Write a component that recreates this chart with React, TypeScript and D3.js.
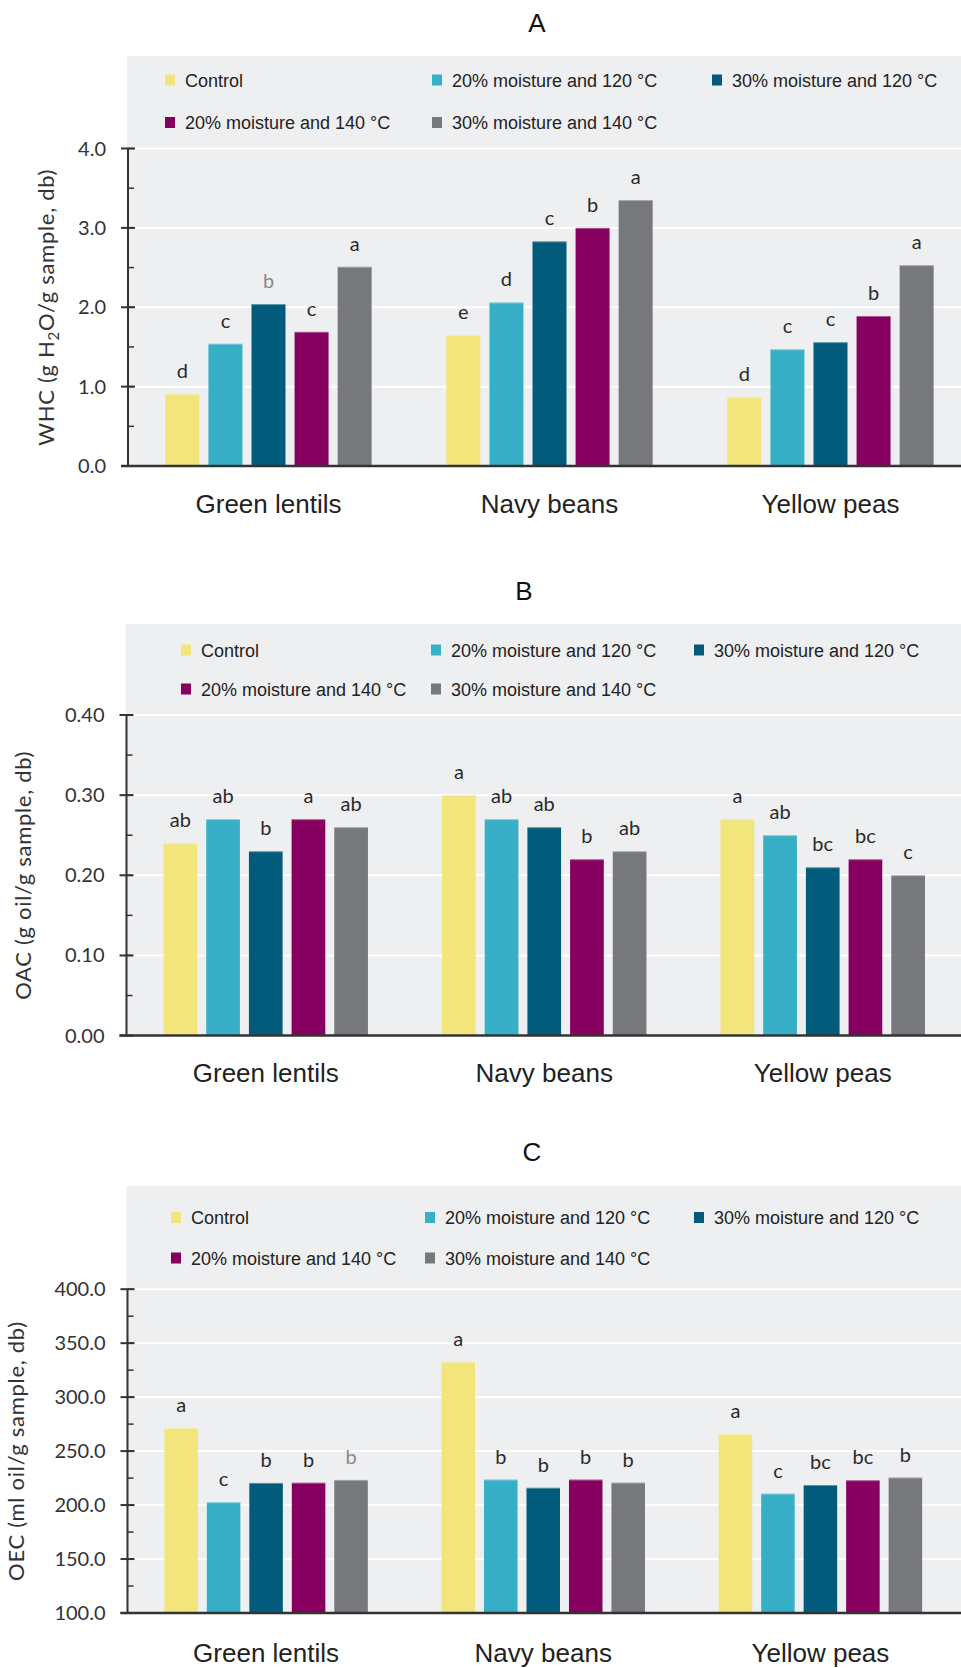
import React from "react";
import * as d3 from "d3";

// Pulse samples and treatments
const categories = ["Green lentils", "Navy beans", "Yellow peas"];
const treatments = [
  "Control",
  "20% moisture and 120 °C",
  "30% moisture and 120 °C",
  "20% moisture and 140 °C",
  "30% moisture and 140 °C",
];
const treatmentColors = ["#f1e57b", "#37afc6", "#025b7b", "#870060", "#77787c"];

// Water holding capacity (g H2O/g sample, db), one row per pulse
const whcValues = [
  [0.91, 1.54, 2.04, 1.69, 2.51],
  [1.65, 2.06, 2.83, 3.0, 3.35],
  [0.87, 1.47, 1.56, 1.89, 2.53],
];
const whcLetters = [
  ["d", "c", "b", "c", "a"],
  ["e", "d", "c", "b", "a"],
  ["d", "c", "c", "b", "a"],
];

// Oil absorption capacity (g oil/g sample, db)
const oacValues = [
  [0.24, 0.27, 0.23, 0.27, 0.26],
  [0.3, 0.27, 0.26, 0.22, 0.23],
  [0.27, 0.25, 0.21, 0.22, 0.2],
];
const oacLetters = [
  ["ab", "ab", "b", "a", "ab"],
  ["a", "ab", "ab", "b", "ab"],
  ["a", "ab", "bc", "bc", "c"],
];

// Oil emulsion capacity (ml oil/g sample, db)
const oecValues = [
  [271.3, 202.6, 220.5, 220.7, 223.3],
  [332.7, 223.6, 216.0, 223.6, 220.8],
  [265.9, 210.6, 218.6, 223.0, 225.5],
];
const oecLetters = [
  ["a", "c", "b", "b", "b"],
  ["a", "b", "b", "b", "b"],
  ["a", "c", "bc", "bc", "b"],
];

// Axis tick values
const whcTicks = [0, 1, 2, 3, 4];
const oacTicks = [0, 0.1, 0.2, 0.3, 0.4];
const oecTicks = [100, 150, 200, 250, 300, 350, 400];

const W = 961;
const H = 1668;
const TICK_FONT = "Lato, 'Open Sans', sans-serif";
const ARIAL = "'Liberation Sans', Arial, sans-serif";
const AXIS_COLOR = "#333";
const BG = "#eeeff1";

type PanelCfg = {
  title: string;
  titleX: number;
  titleY: number;
  bgTop: number;
  yTop: number;
  yBottom: number;
  x0: number;
  x1: number;
  domain: [number, number];
  ticks: number[];
  minorStep: number;
  fmt: (v: number) => string;
  legendRows: number[];
  legendCols: number[];
  axisTitleX: number;
  axisTitle: React.ReactNode;
  catY: number;
  values: number[][];
  letters: string[][];
  muted: string[];
};

function Panel({ cfg }: { cfg: PanelCfg }) {
  const y = d3.scaleLinear().domain(cfg.domain).range([cfg.yBottom, cfg.yTop]);
  const outer = d3
    .scaleBand<string>()
    .domain(categories)
    .range([cfg.x0, cfg.x1])
    .paddingInner(0.266)
    .paddingOuter(0.133);
  const inner = d3
    .scaleBand<number>()
    .domain(d3.range(treatments.length))
    .range([0, outer.bandwidth()])
    .paddingInner(0.211)
    .paddingOuter(0);

  const [d0, d1] = cfg.domain;
  const minor: number[] = [];
  for (let v = d0; v <= d1 + 1e-9; v += cfg.minorStep) minor.push(+v.toFixed(6));

  const legendItems = treatments.map((t, i) => ({
    label: t,
    color: treatmentColors[i],
    x: i < 3 ? cfg.legendCols[i] : cfg.legendCols[i - 3],
    y: i < 3 ? cfg.legendRows[0] : cfg.legendRows[1],
  }));

  const midY = (cfg.yTop + cfg.yBottom) / 2;

  return (
    <g>
      <text
        x={cfg.titleX}
        y={cfg.titleY}
        textAnchor="middle"
        fontFamily={ARIAL}
        fontSize={26}
        fill="#111"
      >
        {cfg.title}
      </text>
      <rect x={cfg.x0 - 1} y={cfg.bgTop} width={W - cfg.x0 + 1} height={cfg.yBottom - cfg.bgTop} fill={BG} />
      {/* gridlines */}
      {cfg.ticks
        .filter((t) => t !== d0)
        .map((t) => (
          <line key={"g" + t} x1={cfg.x0} x2={W} y1={y(t)} y2={y(t)} stroke="#fff" strokeWidth={2} />
        ))}
      {/* legend */}
      {legendItems.map((it) => (
        <g key={it.label}>
          <rect x={it.x} y={it.y - 5.5} width={10} height={11} fill={it.color} />
          <text x={it.x + 20} y={it.y + 6.5} fontFamily={ARIAL} fontSize={18} fill="#222">
            {it.label}
          </text>
        </g>
      ))}
      {/* bars */}
      {categories.map((c, ci) => (
        <g key={c} transform={`translate(${outer(c)},0)`}>
          {cfg.values[ci].map((v, si) => {
            const bx = inner(si)!;
            const top = y(v);
            const muted = cfg.muted.includes(`${ci}-${si}`);
            return (
              <g key={si}>
                <rect x={bx} y={top} width={inner.bandwidth()} height={cfg.yBottom - top} fill={treatmentColors[si]} />
                <line x1={bx} x2={bx + inner.bandwidth()} y1={top + 0.5} y2={top + 0.5} stroke="#fff" strokeOpacity={0.35} strokeWidth={1} />
                <text
                  x={bx + inner.bandwidth() / 2}
                  y={top - 16}
                  textAnchor="middle"
                  fontFamily={TICK_FONT}
                  fontSize={20}
                  fill={muted ? "#8a8a8a" : "#2a2a2a"}
                >
                  {cfg.letters[ci][si]}
                </text>
              </g>
            );
          })}
          <text
            x={outer.bandwidth() / 2}
            y={cfg.catY}
            textAnchor="middle"
            fontFamily={ARIAL}
            fontSize={26}
            fill="#222"
          >
            {c}
          </text>
        </g>
      ))}
      {/* y axis */}
      <line x1={cfg.x0} x2={cfg.x0} y1={cfg.yTop} y2={cfg.yBottom} stroke={AXIS_COLOR} strokeWidth={2} />
      {minor.map((t) => (
        <line key={"m" + t} x1={cfg.x0} x2={cfg.x0 + 6} y1={y(t)} y2={y(t)} stroke={AXIS_COLOR} strokeWidth={1.5} />
      ))}
      {cfg.ticks.map((t) => (
        <g key={"t" + t}>
          <line x1={cfg.x0 - 7} x2={cfg.x0 + 7} y1={y(t)} y2={y(t)} stroke={AXIS_COLOR} strokeWidth={2} />
          <text
            x={cfg.x0 - 22}
            y={y(t)}
            dy="0.35em"
            textAnchor="end"
            fontFamily={TICK_FONT}
            fontSize={20}
            fill="#333"
          >
            {cfg.fmt(t)}
          </text>
        </g>
      ))}
      {/* x axis baseline */}
      <line x1={cfg.x0 - 7} x2={W} y1={cfg.yBottom} y2={cfg.yBottom} stroke={AXIS_COLOR} strokeWidth={2.5} />
      {/* axis title */}
      <text
        transform={`translate(${cfg.axisTitleX},${midY}) rotate(-90)`}
        textAnchor="middle"
        fontFamily={TICK_FONT}
        fontSize={22}
        letterSpacing={0.7}
        fill="#333"
      >
        {cfg.axisTitle}
      </text>
    </g>
  );
}

export default function App() {
  const f1 = d3.format(".1f");
  const f2 = d3.format(".2f");
  const panels: PanelCfg[] = [
    {
      title: "A",
      titleX: 537,
      titleY: 31.5,
      bgTop: 56,
      yTop: 148.5,
      yBottom: 466,
      x0: 128,
      x1: 971,
      domain: [0, 4],
      ticks: whcTicks,
      minorStep: 0.5,
      fmt: f1,
      legendRows: [80, 122.5],
      legendCols: [165, 432, 712],
      axisTitleX: 54,
      axisTitle: (
        <>
          WHC (g H<tspan fontSize={15} dy={5}>2</tspan>
          <tspan dy={-5}>O/g sample, db)</tspan>
        </>
      ),
      catY: 513,
      values: whcValues,
      letters: whcLetters,
      muted: ["0-2"],
    },
    {
      title: "B",
      titleX: 524,
      titleY: 600,
      bgTop: 624,
      yTop: 715,
      yBottom: 1035.6,
      x0: 126.5,
      x1: 962,
      domain: [0, 0.4],
      ticks: oacTicks,
      minorStep: 0.05,
      fmt: f2,
      legendRows: [650, 689],
      legendCols: [181, 431, 694],
      axisTitleX: 31,
      axisTitle: "OAC (g oil/g sample, db)",
      catY: 1082,
      values: oacValues,
      letters: oacLetters,
      muted: [],
    },
    {
      title: "C",
      titleX: 532,
      titleY: 1161,
      bgTop: 1186,
      yTop: 1289.2,
      yBottom: 1613,
      x0: 127.5,
      x1: 959,
      domain: [100, 400],
      ticks: oecTicks,
      minorStep: 25,
      fmt: f1,
      legendRows: [1217.5, 1258],
      legendCols: [171, 425, 694],
      axisTitleX: 24,
      axisTitle: "OEC (ml oil/g sample, db)",
      catY: 1662,
      values: oecValues,
      letters: oecLetters,
      muted: ["0-4"],
    },
  ];
  return (
    <svg
      width={W}
      height={H}
      viewBox={`0 0 ${W} ${H}`}
      style={{ position: "absolute", left: 0, top: 0, background: "#fff" }}
    >
      <rect x={0} y={0} width={W} height={H} fill="#fff" />
      {panels.map((p) => (
        <Panel key={p.title} cfg={p} />
      ))}
    </svg>
  );
}
